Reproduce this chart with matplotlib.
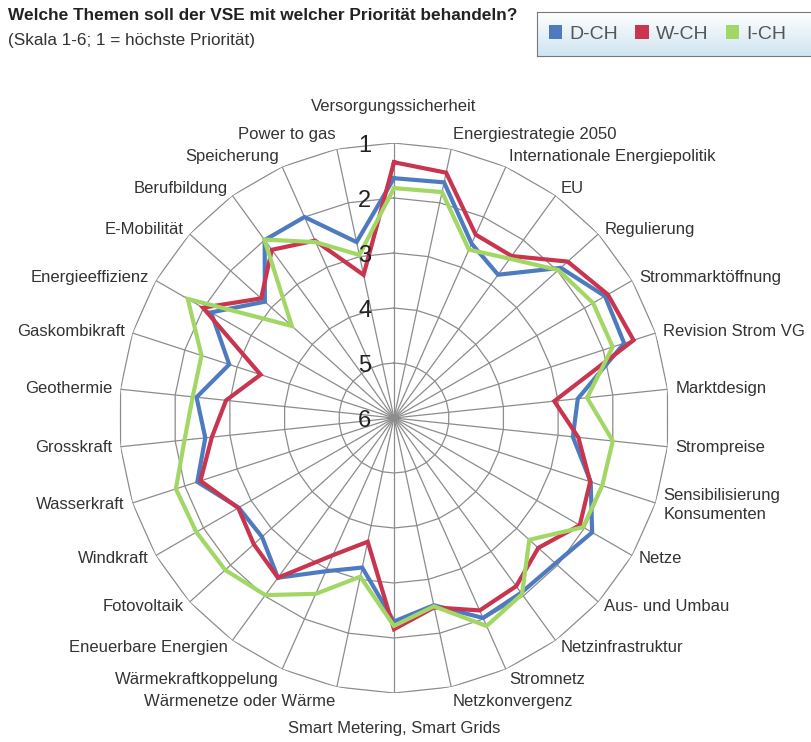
import numpy as np
import matplotlib.pyplot as plt
from matplotlib.patches import Patch
from matplotlib.colors import LinearSegmentedColormap

plt.rcParams['font.family'] = ['Liberation Sans', 'DejaVu Sans']

# Themen im Uhrzeigersinn ab oben
themen = ['Versorgungssicherheit', 'Energiestrategie 2050', 'Internationale Energiepolitik',
          'EU', 'Regulierung', 'Strommarktöffnung', 'Revision Strom VG', 'Marktdesign',
          'Strompreise', 'Sensibilisierung\nKonsumenten', 'Netze', 'Aus- und Umbau',
          'Netzinfrastruktur', 'Stromnetz', 'Netzkonvergenz', 'Smart Metering, Smart Grids',
          'Wärmenetze oder Wärme', 'Wärmekraftkoppelung', 'Eneuerbare Energien', 'Fotovoltaik',
          'Windkraft', 'Wasserkraft', 'Grosskraft', 'Geothermie', 'Gaskombikraft',
          'Energieeffizienz', 'E-Mobilität', 'Berufbildung', 'Speicherung', 'Power to gas']

d_ch = [1.64, 1.62, 2.53, 2.78, 1.92, 1.57, 1.60, 2.64, 2.73, 2.24,
        1.84, 2.05, 2.07, 2.02, 2.52, 2.30, 3.22, 2.95, 2.41, 2.77,
        2.74, 2.24, 2.55, 2.39, 2.85, 2.16, 2.84, 2.00, 2.00, 2.73]
w_ch = [1.35, 1.44, 2.35, 2.36, 1.75, 1.51, 1.42, 3.07, 2.63, 2.25,
        2.10, 2.47, 2.22, 2.17, 2.48, 2.16, 3.70, 3.27, 2.41, 2.57,
        2.73, 2.30, 2.67, 2.93, 3.45, 1.99, 2.75, 2.22, 2.47, 3.34]
i_ch = [1.82, 1.80, 2.65, 2.42, 1.98, 1.82, 1.82, 2.47, 2.00, 2.02,
        2.03, 2.69, 2.04, 1.86, 2.50, 2.22, 3.05, 2.50, 2.02, 1.87,
        1.85, 1.83, 2.17, 2.32, 2.32, 1.67, 3.50, 1.99, 2.50, 2.97]

skala = [1, 2, 3, 4, 5, 6]
farben = {'D-CH': '#4e7bbf', 'W-CH': '#c9344f', 'I-CH': '#a2d766'}

n = len(themen)
winkel = np.linspace(0, 2 * np.pi, n, endpoint=False)
wz = np.append(winkel, winkel[0])

fig = plt.figure(figsize=(8.11, 7.42), dpi=100)
ax = fig.add_axes([119 / 811, 49 / 742, 550 / 811, 550 / 742], projection='polar')
ax.set_theta_zero_location('N')
ax.set_theta_direction(-1)
ax.set_ylim(6, 1)
ax.grid(False)
ax.set_xticks([])
ax.set_yticks([])
ax.spines['polar'].set_visible(False)

grau = '#8c8c8c'
for s in skala[:-1]:
    ax.plot(wz, [s] * (n + 1), color=grau, lw=0.9, zorder=1)
for w in winkel:
    ax.plot([w, w], [6, 1], color=grau, lw=0.9, zorder=1)

for name, werte in [('D-CH', d_ch), ('W-CH', w_ch), ('I-CH', i_ch)]:
    ax.plot(wz, werte + werte[:1], color=farben[name], lw=3.0,
            solid_joinstyle='miter', zorder=3)

# Skalenbeschriftung
for s in skala:
    ax.annotate(str(s), xy=(0, s), xytext=(-21, -2), textcoords='offset points',
                ha='center', va='center', fontsize=17, color='#222222', zorder=4)

# Themenbeschriftung
for w, t in zip(winkel, themen):
    sn, cs = np.sin(w), np.cos(w)
    if abs(sn) < 0.05:
        ha = 'center'
        dx = 0
        dy = 36 * np.sign(cs)
    else:
        ha = 'left' if sn > 0 else 'right'
        dx = 8 * sn
        dy = 6 * cs + 10 * np.sign(cs) * abs(cs) ** 8
    ax.annotate(t, xy=(w, 1), xytext=(dx * 0.72, dy * 0.72), textcoords='offset points',
                ha=ha, va='center', fontsize=12, color='#333333', linespacing=1.35)

# Titel
fig.text(8 / 811, 1 - 16 / 742, 'Welche Themen soll der VSE mit welcher Priorität behandeln?',
         fontsize=12.4, fontweight='bold', va='center', color='#222222')
fig.text(8 / 811, 1 - 41 / 742, '(Skala 1-6; 1 = höchste Priorität)',
         fontsize=12.3, va='center', color='#333333')

# Legende mit Verlauf
lax = fig.add_axes([537 / 811, 1 - 56 / 742, 290 / 811, 44 / 742])
grad = np.linspace(0, 1, 100).reshape(-1, 1)
cmap = LinearSegmentedColormap.from_list('lg', ['#ffffff', '#cfe4f1'])
lax.imshow(grad, aspect='auto', cmap=cmap, extent=[0, 1, 0, 1], origin='upper')
lax.set_xticks([])
lax.set_yticks([])
for sp in lax.spines.values():
    sp.set_color('#777777')
handles = [Patch(facecolor=c, edgecolor='none', label=k) for k, c in farben.items()]
lax.legend(handles=handles, loc='center left', ncol=3, frameon=False, fontsize=14,
           handlelength=0.7, handleheight=0.7, handletextpad=0.35,
           columnspacing=0.9, borderaxespad=0.2, labelcolor='#555555')

fig.savefig('out.png', dpi=100)
